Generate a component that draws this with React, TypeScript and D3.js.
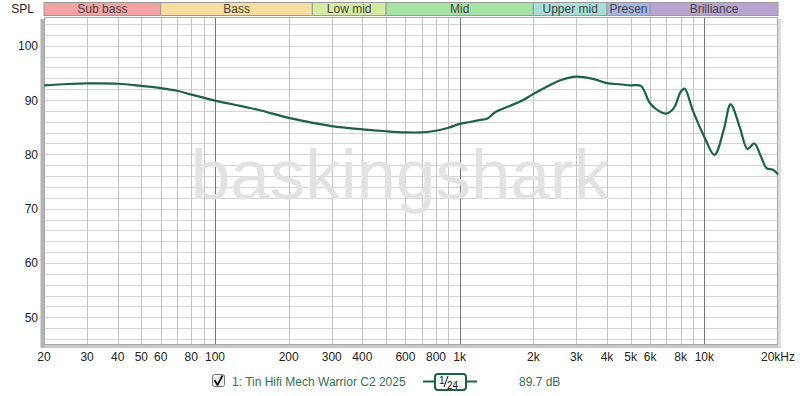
import React from "react";
import * as d3 from "d3";

// Frequency response, Hz -> dB SPL
const freqs = [
  20, 25, 30, 40, 50, 60, 70, 80, 100, 150, 200, 300, 400, 500, 600, 700, 800, 900,
  1000, 1100, 1200, 1300, 1400, 1600, 1800, 2000, 2300, 2600, 3000, 3500, 4000, 4500,
  5000, 5500, 6000, 6500, 7000, 7500, 8000, 8300, 9000, 10000, 11000, 12000, 12800,
  14000, 15000, 16000, 17000, 18000, 19000, 20000,
];
const spl = [
  92.7, 92.95, 93.05, 93.0, 92.6, 92.2, 91.7, 91.0, 89.9, 88.2, 86.7, 85.2, 84.6, 84.25,
  84.05, 84.05, 84.35, 84.9, 85.6, 85.95, 86.3, 86.6, 87.8, 88.9, 89.9, 91.1, 92.6, 93.7,
  94.3, 93.9, 93.1, 92.9, 92.7, 92.6, 89.4, 88.0, 87.5, 88.5, 91.5, 92.1, 87.9, 83.2,
  79.9, 84.5, 89.2, 84.8, 81.0, 82.0, 79.7, 77.4, 77.2, 76.3,
];

const bandNames = ["Sub bass", "Bass", "Low mid", "Mid", "Upper mid", "Presen", "Brilliance"];
const bandEdges = [20, 60, 250, 500, 2000, 4000, 6000, 20000];
const bandColors = ["#f4a3a4", "#f7de9e", "#d5eba1", "#a5e3a5", "#a7dfd7", "#a4b7e2", "#b8a4d2"];

const xTickValues = [20, 30, 40, 50, 60, 80, 100, 200, 300, 400, 600, 800, 1000, 2000, 3000, 4000, 5000, 6000, 8000, 10000, 20000];
const xTickLabels = ["20", "30", "40", "50", "60", "80", "100", "200", "300", "400", "600", "800", "1k", "2k", "3k", "4k", "5k", "6k", "8k", "10k", "20kHz"];
const yTickValues = [50, 60, 70, 80, 90, 100];

const W = 800;
const H = 396;
const plot = { left: 44, right: 778, top: 17, bottom: 345 };
const FONT = "'Liberation Sans', Arial, sans-serif";

export default function App() {
  const x = d3.scaleLog().domain([20, 20000]).range([plot.left, plot.right]);
  const y = d3.scaleLinear().domain([50, 100]).range([317.3, 45.7]);

  // Vertical grid: every 1-2-3...9 step per decade
  const vGrid: number[] = [];
  for (let dec = 10; dec <= 10000; dec *= 10) {
    for (let m = 1; m <= 9; m++) {
      const f = dec * m;
      if (f > 20 && f < 20000) vGrid.push(f);
    }
  }
  const majors = new Set([100, 1000, 10000]);

  // Horizontal grid every 2 dB within the frame
  const hGrid: number[] = [];
  for (let v = 46; v <= 104; v += 2) hGrid.push(v);

  const line = d3
    .line<number>()
    .x((_, i) => x(freqs[i]))
    .y((d) => y(d))
    .curve(d3.curveCatmullRom.alpha(0.5));

  return (
    <svg width={W} height={H} style={{ position: "absolute", left: 0, top: 0, background: "#fff" }} fontFamily={FONT}>
      <rect x={0} y={0} width={W} height={H} fill="#fff" />

      {/* frequency bands header */}
      {bandNames.map((name, i) => {
        const x0 = x(bandEdges[i]);
        const x1 = x(bandEdges[i + 1]);
        return (
          <g key={name}>
            <rect x={x0} y={2.5} width={x1 - x0} height={13} fill={bandColors[i]} stroke="#9a9a9a" strokeWidth={1} />
            <text x={(x0 + x1) / 2} y={13} textAnchor="middle" fontSize={12} fill="#444">
              {name}
            </text>
          </g>
        );
      })}
      <text x={34} y={13} textAnchor="end" fontSize={12} fill="#222">SPL</text>

      {/* frame shadow */}
      <rect x={40.5} y={plot.top + 2} width={4} height={plot.bottom - plot.top + 1} fill="#b4b4b4" />
      <rect x={plot.left} y={plot.bottom} width={plot.right - plot.left + 3} height={3} fill="#c8c8c8" />
      <rect x={plot.right} y={plot.top + 2} width={3} height={plot.bottom - plot.top} fill="#dcdcdc" />

      <rect x={plot.left} y={plot.top} width={plot.right - plot.left} height={plot.bottom - plot.top} fill="#fff" />

      {/* grid */}
      {hGrid.map((v) => (
        <line key={"h" + v} x1={plot.left} x2={plot.right} y1={Math.round(y(v)) + 0.5} y2={Math.round(y(v)) + 0.5} stroke="#d4d4d4" strokeWidth={1} />
      ))}
      {vGrid.map((f) => (
        <line
          key={"v" + f}
          x1={Math.round(x(f)) + 0.5}
          x2={Math.round(x(f)) + 0.5}
          y1={plot.top}
          y2={plot.bottom}
          stroke={majors.has(f) ? "#7a7a7a" : "#c4c4c4"}
          strokeWidth={1}
        />
      ))}
      <rect x={plot.left + 0.5} y={plot.top + 0.5} width={plot.right - plot.left - 1} height={plot.bottom - plot.top - 1} fill="none" stroke="#a8a8a8" strokeWidth={1} />

      {/* watermark */}
      <text x={400} y={199} textAnchor="middle" fontSize={71} fill="#e2e2e2" fontFamily={FONT}>
        baskingshark
      </text>

      {/* response curve */}
      <path d={line(spl) ?? ""} fill="none" stroke="#1c6345" strokeWidth={2.2} strokeLinejoin="round" />

      {/* y axis labels */}
      {yTickValues.map((v) => (
        <text key={"yl" + v} x={38} y={y(v) + 4.5} textAnchor="end" fontSize={12} fill="#222">
          {v}
        </text>
      ))}

      {/* x axis labels */}
      {xTickValues.map((f, i) => (
        <text key={"xl" + f} x={x(f)} y={361} textAnchor="middle" fontSize={12} fill="#222">
          {xTickLabels[i]}
        </text>
      ))}

      {/* legend */}
      <g>
        <rect x={212.5} y={374.5} width={12} height={12} rx={2} fill="#eee" stroke="#777" />
        <path d="M214.5,380 L217.5,385 L222.5,375.5" fill="none" stroke="#111" strokeWidth={1.8} />
        <text x={232} y={386} fontSize={12} fill="#2f7351">1: Tin Hifi Mech Warrior C2 2025</text>
        <line x1={423} x2={477} y1={381.5} y2={381.5} stroke="#1c6345" strokeWidth={2} />
        <rect x={435} y={374} width={31} height={16} rx={3} fill="#fff" stroke="#1c6345" strokeWidth={2} />
        <text x={439} y={384} fontSize={10} fill="#111">1</text>
        <line x1={444} x2={448} y1={387} y2={376} stroke="#111" strokeWidth={1} />
        <text x={447} y={389} fontSize={10} fill="#111">24</text>
        <text x={519} y={386} fontSize={12} fill="#2f7351">89.7 dB</text>
      </g>
    </svg>
  );
}
